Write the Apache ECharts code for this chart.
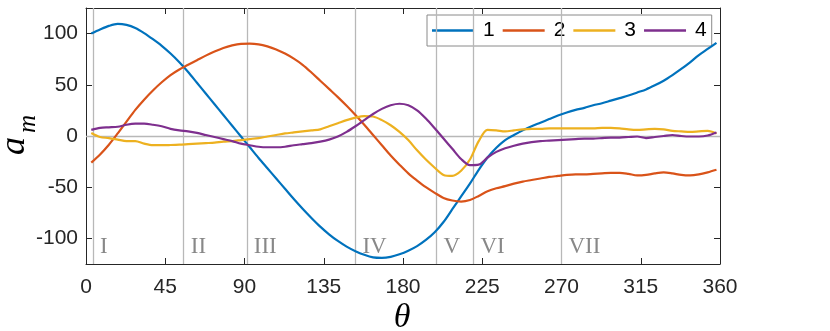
<!DOCTYPE html>
<html>
<head>
<meta charset="utf-8">
<script src="https://cdn.jsdelivr.net/npm/echarts@6/dist/echarts.min.js"></script>
<style>
  html, body { margin: 0; padding: 0; background: #fff; }
  #chart { width: 830px; height: 331px; }
</style>
</head>
<body>
<div id="chart"></div>
<script>
// theta grid (deg) and the four mode amplitudes a_m
var theta = [3, 8, 13, 18, 23, 28, 33, 38, 43, 48, 53, 58, 63, 68, 73, 78, 83, 88, 93, 98,
    103, 108, 113, 118, 123, 128, 133, 138, 143, 148, 153, 158, 163, 168, 173, 178, 183, 188, 193, 198,
    203, 208, 213, 218, 223, 228, 233, 238, 243, 248, 253, 258, 263, 268, 273, 278, 283, 288, 293, 298,
    303, 308, 313, 318, 323, 328, 333, 338, 343, 348, 353, 358];

var mode1 = [100, 104, 107.5, 109.5, 108.5, 105.5, 100.5, 94.5, 88, 80.5,
    72, 62.5, 52, 41.5, 31, 20.5, 10, -0.5, -11, -21.5,
    -31.5, -41.5, -51.5, -61.5, -71, -80, -88.5, -96, -102.5, -108,
    -112.5, -116, -118.5, -119, -118, -115.5, -112, -107.5, -101.5, -94,
    -84, -71.5, -59, -46.5, -33, -21, -11.5, -4, 1, 5.5,
    9.5, 13, 16.5, 20, 23, 25.5, 27.5, 30, 32, 34.5,
    37, 39.5, 42.5, 45.5, 49.5, 54, 59.5, 65.5, 72, 79,
    85, 91];

var mode2 = [-26, -18, -8.5, 2.5, 14, 25.5, 35.5, 44.5, 52.5, 59.5,
    65, 69.5, 74, 78.5, 82.5, 86, 88.5, 90, 90.2, 89.5,
    87.5, 84.5, 80.5, 75.5, 69.5, 62, 54, 46, 38, 29.5,
    20.5, 11, 1, -9, -19, -28, -36.5, -43.5, -50, -55.5,
    -60.5, -63, -64, -62.5, -58.5, -54, -51, -49, -46.5, -44.5,
    -43, -41.5, -40, -39, -38, -37.5, -37.5, -37, -36.5, -36,
    -36, -37, -38.5, -38, -36.5, -35.5, -36.5, -38, -38.5, -37.5,
    -35.5, -33];

var mode3 = [3, -1, -2, -3.5, -5, -5, -7.5, -9, -9, -8.8,
    -8.5, -8, -7.5, -7, -6.5, -5.5, -5, -4, -3, -2,
    -0.5, 1, 2.5, 3.5, 4.5, 5.5, 6.5, 9.5, 12.5, 15.5,
    18, 19.5, 19, 15.5, 10.5, 4, -4, -14, -23, -31,
    -38, -39, -34, -23, -5, 6, 5.5, 4.5, 5.5, 6.5,
    7, 7, 7.5, 7.5, 7.5, 7.5, 7.5, 7.5, 8, 8,
    7.5, 6.5, 6, 6.5, 7, 6.5, 5, 4.5, 4, 4.5,
    5, 2.5];

var mode4 = [6, 8, 8.5, 9, 11, 12, 12, 11, 9.5, 7,
    5.5, 4.5, 3, 1, -1, -3, -5, -7.5, -9, -10.5,
    -11, -11, -10.5, -9, -8, -7, -5.5, -3.5, -0.5, 4,
    9.5, 15.5, 21.5, 26.5, 30, 31.5, 30, 25, 17, 7.5,
    -2.5, -12.5, -22.5, -28.5, -28, -21, -15.5, -12, -9.5, -7.5,
    -6, -5, -4.5, -4, -3.5, -3, -2.5, -2.5, -2, -1.5,
    -1.5, -1, -0.5, -2, -1, 0, 1, 0, -0.5, -0.5,
    0.5, 3.5];

var seriesNames = ['1', '2', '3', '4'];
var colorList = ['#0072BD', '#D95319', '#EDB120', '#7E2F8E'];

// region boundaries (deg) and their names
var regionBounds = [4, 55.5, 91.3, 153, 199, 220, 270];
var regionNames = ['I', 'II', 'III', 'IV', 'V', 'VI', 'VII'];
var regionLabelY = -108;

var xTicks = 45;
var yTicks = [-100, -50, 0, 50, 100];

var axisColor = '#262626';
var refColor = '#b8b8b8';
var tickFont = 'Liberation Sans, Arial, sans-serif';
var serifFont = 'Liberation Serif, DejaVu Serif, serif';

function pairs(xs, ys) {
    var out = [];
    for (var i = 0; i < xs.length; i++) {
        out.push([xs[i], ys[i]]);
    }
    return out;
}

var modes = [mode1, mode2, mode3, mode4];
var series = [];

// reference lines: zero line and region boundaries (drawn below the curves)
series.push({
    name: 'ref',
    type: 'line',
    data: [],
    silent: true,
    z: 1,
    markLine: {
        silent: true,
        symbol: 'none',
        animation: false,
        label: {show: false},
        lineStyle: {color: refColor, width: 1.3, type: 'solid'},
        data: [{yAxis: 0}].concat(regionBounds.map(function(b) { return {xAxis: b}; }))
    }
});

// roman numeral labels for the regions
series.push({
    name: 'regions',
    type: 'scatter',
    symbolSize: 0,
    silent: true,
    z: 2,
    data: regionBounds.map(function(b, i) { return {value: [b, regionLabelY], name: regionNames[i]}; }),
    label: {
        show: true,
        position: 'right',
        distance: 7,
        formatter: function(p) { return p.name; },
        fontFamily: serifFont,
        fontSize: 23,
        color: '#6a6a6a'
    }
});

for (var k = 0; k < modes.length; k++) {
    series.push({
        name: seriesNames[k],
        type: 'line',
        data: pairs(theta, modes[k]),
        symbol: 'none',
        smooth: 0.3,
        z: 5,
        lineStyle: {width: 2.2, color: colorList[k]},
        itemStyle: {color: colorList[k]}
    });
}

var chart = echarts.init(document.getElementById('chart'), null, {renderer: 'canvas'});

var option = {
    animation: false,
    backgroundColor: '#fff',
    grid: {left: 86, right: 110, top: 8, bottom: 67, containLabel: false},
    legend: {
        data: seriesNames,
        left: 427,
        top: 15,
        orient: 'horizontal',
        icon: 'rect',
        itemWidth: 42,
        itemHeight: 2.5,
        itemGap: 8,
        padding: [5, 5, 5, 5],
        backgroundColor: '#fff',
        borderColor: '#8a8a8a',
        borderWidth: 1,
        borderRadius: 0,
        textStyle: {fontFamily: tickFont, fontSize: 21, color: '#000', padding: [0, 0, 0, 4], lineHeight: 20}
    },
    xAxis: [{
        type: 'value', min: 0, max: 360, interval: xTicks, position: 'bottom',
        axisLine: {show: true, onZero: false, lineStyle: {color: axisColor, width: 1}},
        axisTick: {show: true, inside: true, length: 6, lineStyle: {color: axisColor}},
        axisLabel: {fontFamily: tickFont, fontSize: 21, color: axisColor, margin: 13},
        splitLine: {show: false}
    }, {
        type: 'value', min: 0, max: 360, interval: xTicks, position: 'top',
        axisLine: {show: true, onZero: false, lineStyle: {color: axisColor, width: 1}},
        axisTick: {show: true, inside: true, length: 6, lineStyle: {color: axisColor}},
        axisLabel: {show: false},
        splitLine: {show: false}
    }],
    yAxis: [{
        type: 'value', min: -125, max: 125, position: 'left',
        axisLine: {show: true, onZero: false, lineStyle: {color: axisColor, width: 1}},
        axisTick: {show: true, inside: true, length: 6, customValues: yTicks, lineStyle: {color: axisColor}},
        axisLabel: {customValues: yTicks, fontFamily: tickFont, fontSize: 21, color: axisColor, margin: 8},
        splitLine: {show: false}
    }, {
        type: 'value', min: -125, max: 125, position: 'right',
        axisLine: {show: true, onZero: false, lineStyle: {color: axisColor, width: 1}},
        axisTick: {show: true, inside: true, length: 6, customValues: yTicks, lineStyle: {color: axisColor}},
        axisLabel: {show: false},
        splitLine: {show: false}
    }],
    graphic: [
        {
            type: 'text', x: 402, y: 318,
            style: {text: 'θ', font: 'italic 34px ' + serifFont, fill: '#000',
                textAlign: 'center', textVerticalAlign: 'middle', align: 'center', verticalAlign: 'middle'}
        },
        {
            type: 'text', x: 15, y: 146, rotation: Math.PI / 2,
            style: {text: 'a', font: 'italic 36px ' + serifFont, fill: '#000',
                textAlign: 'center', textVerticalAlign: 'middle', align: 'center', verticalAlign: 'middle'}
        },
        {
            type: 'text', x: 28, y: 124, rotation: Math.PI / 2,
            style: {text: 'm', font: 'italic 25px ' + serifFont, fill: '#000',
                textAlign: 'center', textVerticalAlign: 'middle', align: 'center', verticalAlign: 'middle'}
        }
    ],
    series: series
};

chart.setOption(option);
</script>
</body>
</html>
